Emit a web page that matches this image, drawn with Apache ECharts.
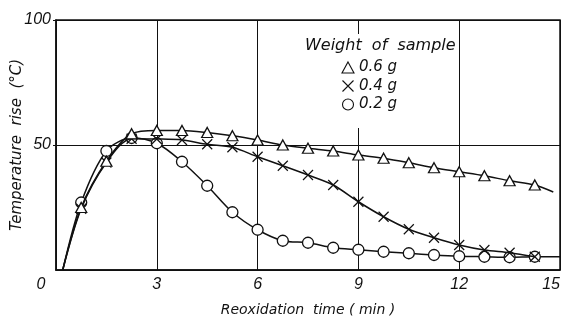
<!DOCTYPE html>
<html>
<head>
<meta charset="utf-8">
<script src="https://cdn.jsdelivr.net/npm/echarts@6/dist/echarts.min.js"></script>
<style>
  html, body { margin: 0; padding: 0; background: #fff; }
  #chart { width: 564px; height: 325px; }
</style>
</head>
<body>
<div id="chart"></div>
<script>
// Reoxidation time (min) at each measured point
const times = [0.75, 1.5, 2.25, 3.0, 3.75, 4.5, 5.25, 6.0, 6.75, 7.5, 8.25, 9.0, 9.75, 10.5, 11.25, 12.0, 12.75, 13.5, 14.25];
// All curves rise from this starting time at zero temperature rise
const startTime = 0.2;
// Temperature rise (°C) for each sample weight
const rise06 = [25, 43.5, 54.5, 55.8, 55.8, 55, 53.7, 52, 50, 48.7, 47.6, 46, 44.7, 42.9, 40.9, 39.3, 37.7, 35.7, 34];
const rise04 = [24.5, 43, 52.5, 52.4, 52, 50.3, 49.1, 45.3, 41.7, 38, 34, 27.3, 21.3, 16.3, 12.9, 10, 8, 6.9, 5.3];
const rise02 = [27, 47.6, 52.8, 50.7, 43.3, 33.7, 23.1, 16.1, 11.7, 10.9, 8.9, 8.1, 7.3, 6.7, 6.0, 5.5, 5.3, 5.1, 5.3];
// Where the 0.6 g and 0.2 g lines run out past the last marker
const tail06 = [14.8, 31.2];
const tail02 = [15, 5.3];

const seriesNames = ['0.6 g', '0.4 g', '0.2 g'];
const xTicks = [0, 3, 6, 9, 12, 15];
const yTicks = [0, 50, 100];

const crossPath = 'path://M0,0L10,10M10,0L0,10';

function buildData(values, tail) {
  const d = [{ value: [startTime, 0], symbol: 'none' }];
  times.forEach((t, i) => d.push([t, values[i]]));
  if (tail) d.push({ value: tail, symbol: 'none' });
  return d;
}

const textFont = '"DejaVu Sans", sans-serif';
const tickFont = '"Liberation Sans", Arial, sans-serif';
const ink = '#111';
const markStyle = { color: '#fff', borderColor: ink, borderWidth: 1.3 };
const crossStyle = { color: 'none', borderColor: ink, borderWidth: 1.2 };
const lineStyle = { color: ink, width: 1.5 };

const chart = echarts.init(document.getElementById('chart'));
chart.setOption({
  animation: false,
  backgroundColor: '#fff',
  grid: {
    left: 56, right: 4, top: 20, bottom: 55,
    outerBoundsMode: 'none', containLabel: false,
    show: true, borderColor: ink, borderWidth: 1.5, backgroundColor: 'transparent'
  },
  title: {
    text: 'Weight  of  sample',
    left: 305, top: 38, padding: 0,
    textStyle: { fontFamily: textFont, fontStyle: 'italic', fontWeight: 'normal', fontSize: 16, color: ink }
  },
  legend: {
    orient: 'vertical',
    left: 340, top: 60, padding: 0,
    itemWidth: 12, itemHeight: 11, itemGap: 3,
    data: [
      { name: seriesNames[0], icon: 'triangle', itemStyle: { color: '#fff', borderColor: ink, borderWidth: 1.1 } },
      { name: seriesNames[1], icon: crossPath, itemStyle: { color: 'none', borderColor: ink, borderWidth: 1.1 } },
      { name: seriesNames[2], icon: 'circle', itemStyle: { color: '#fff', borderColor: ink, borderWidth: 1.1 } }
    ],
    textStyle: { fontFamily: textFont, fontStyle: 'italic', fontSize: 15, color: ink },
    z: 5
  },
  graphic: [{
    type: 'rect', z: 1,
    shape: { x: 298, y: 34, width: 158, height: 94 },
    style: { fill: '#fff' }
  }],
  xAxis: {
    type: 'value', min: xTicks[0], max: xTicks[xTicks.length - 1], interval: 3,
    name: 'Reoxidation  time ( min )', nameLocation: 'middle', nameGap: 33, nameMoveOverlap: false,
    nameTextStyle: { fontFamily: textFont, fontStyle: 'italic', fontSize: 14, color: ink },
    axisLine: { lineStyle: { color: ink, width: 1.5 } },
    axisTick: { show: false },
    axisLabel: {
      fontFamily: tickFont, fontStyle: 'italic', fontSize: 16, color: ink, margin: 7,
      alignMaxLabel: 'right',
      // the shared origin label sits left of the corner
      formatter: v => (v === 0 ? '{o|0}' : String(v)),
      rich: { o: { fontFamily: tickFont, fontStyle: 'italic', fontSize: 16, color: ink, padding: [0, 30, 0, 0] } }
    },
    splitLine: { show: true, lineStyle: { color: ink, width: 1 } }
  },
  yAxis: {
    type: 'value', min: yTicks[0], max: yTicks[yTicks.length - 1], interval: 50,
    name: 'Temperature  rise  (°C)', nameLocation: 'middle', nameGap: 31, nameMoveOverlap: false,
    nameTextStyle: { fontFamily: textFont, fontStyle: 'italic', fontSize: 15, color: ink },
    axisLine: { show: true, lineStyle: { color: ink, width: 1.5 } },
    axisTick: { show: true, length: 3, lineStyle: { color: ink } },
    axisLabel: { fontFamily: tickFont, fontStyle: 'italic', fontSize: 16, color: ink, margin: 5, showMinLabel: false },
    splitLine: { show: true, lineStyle: { color: ink, width: 1 } }
  },
  series: [
    {
      name: seriesNames[0], type: 'line', z: 4,
      data: buildData(rise06, tail06),
      smooth: 0.3, symbol: 'triangle', symbolSize: [11, 10],
      itemStyle: markStyle, lineStyle: lineStyle
    },
    {
      name: seriesNames[1], type: 'line', z: 3,
      data: buildData(rise04, null),
      smooth: 0.3, symbol: crossPath, symbolSize: 10,
      itemStyle: crossStyle, lineStyle: lineStyle
    },
    {
      name: seriesNames[2], type: 'line', z: 2,
      data: buildData(rise02, tail02),
      smooth: 0.3, symbol: 'circle', symbolSize: 11,
      itemStyle: markStyle, lineStyle: lineStyle
    }
  ]
});
</script>
</body>
</html>
